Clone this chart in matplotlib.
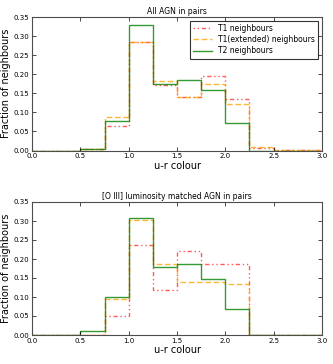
import numpy as np
import matplotlib
matplotlib.use("Agg")
import matplotlib.pyplot as plt

edges = np.arange(0, 3.01, 0.25)

# top panel: all AGN in pairs
top_t1 = [0, 0, 0.003, 0.065, 0.284, 0.172, 0.140, 0.195, 0.135, 0.007, 0.002, 0.002]
top_t1ext = [0, 0, 0.003, 0.087, 0.284, 0.182, 0.140, 0.175, 0.122, 0.008, 0.002, 0.002]
top_t2 = [0, 0, 0.005, 0.077, 0.330, 0.174, 0.184, 0.158, 0.073, 0, 0, 0]

# bottom panel: [O III] luminosity matched
bot_t1 = [0, 0, 0, 0.050, 0.237, 0.118, 0.221, 0.187, 0.187, 0, 0, 0]
bot_t1ext = [0, 0, 0, 0.095, 0.302, 0.187, 0.140, 0.140, 0.134, 0, 0, 0]
bot_t2 = [0, 0, 0.010, 0.099, 0.307, 0.178, 0.188, 0.148, 0.068, 0, 0, 0]

titles = ["All AGN in pairs", "[O III] luminosity matched AGN in pairs"]
labels = ["T1 neighbours", "T1(extended) neighbours", "T2 neighbours"]

fig = plt.figure(figsize=(3.33, 3.64), dpi=100)
ax1 = fig.add_axes([32/333, 1 - 150.5/364, 290/333, 133.5/364])
ax2 = fig.add_axes([32/333, 1 - 335/364, 290/333, 133/364])

panels = [(ax1, top_t1, top_t1ext, top_t2), (ax2, bot_t1, bot_t1ext, bot_t2)]
for i, (ax, t1, t1e, t2) in enumerate(panels):
    ax.stairs(t1, edges, color='red', linestyle=(0, (1, 2, 1, 2, 3, 2)), lw=1.0, alpha=0.65, label=labels[0])
    ax.stairs(t1e, edges, color='orange', linestyle=(0, (4, 2)), lw=1.0, alpha=0.8, label=labels[1])
    ax.stairs(t2, edges, color='green', linestyle='-', lw=1.0, alpha=0.8, label=labels[2])
    ax.set_xlim(0, 3)
    ax.set_ylim(0, 0.35)
    ax.set_xticks(np.arange(0, 3.01, 0.5))
    ax.set_yticks(np.arange(0, 0.351, 0.05))
    ax.xaxis.set_major_formatter(matplotlib.ticker.FormatStrFormatter('%.1f'))
    ax.yaxis.set_major_formatter(matplotlib.ticker.FormatStrFormatter('%.2f'))
    ax.tick_params(direction='in', top=True, right=True, labelsize=5, length=3, width=0.5, pad=2)
    for s in ax.spines.values():
        s.set_linewidth(0.8)
        s.set_color('0.3')
    ax.set_xlabel("u-r colour", fontsize=7, labelpad=1)
    ax.set_ylabel("Fraction of neighbours", fontsize=7, labelpad=2)
    ax.set_title(titles[i], fontsize=5.5, pad=2)

leg = ax1.legend(loc='upper right', fontsize=5.5, frameon=True, fancybox=False,
                 handlelength=2.5, borderpad=0.4, labelspacing=0.3)
leg.get_frame().set_edgecolor('black')
leg.get_frame().set_linewidth(0.8)

fig.savefig("out.png", dpi=100)
